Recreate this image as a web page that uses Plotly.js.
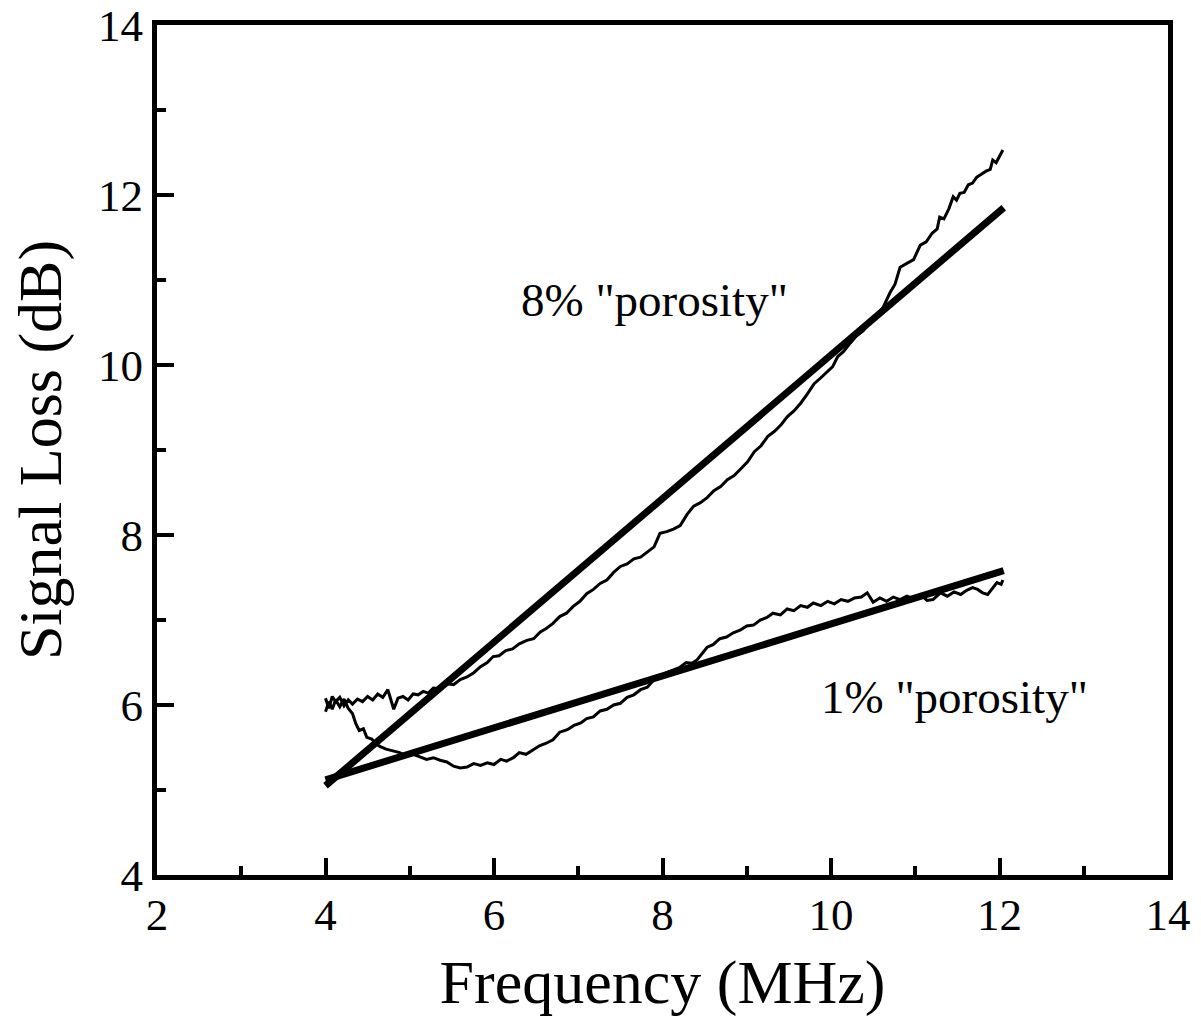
<!DOCTYPE html>
<html><head><meta charset="utf-8">
<script src="https://cdn.plot.ly/plotly-3.0.1.min.js"></script>
<style>body{margin:0;background:#fff}#chart{width:1201px;height:1032px}</style>
</head><body><div id="chart"></div>
<script>
// 8% "porosity" measured curve
const x8 = [4.00,4.04,4.08,4.12,4.17,4.22,4.27,4.32,4.38,4.44,4.50,4.56,4.62,4.68,4.74,4.78,4.81,4.86,4.92,4.98,5.04,5.10,5.16,5.22,5.28,5.36,5.44,5.52,5.60,5.68,5.76,5.84,5.92,5.99,6.06,6.14,6.22,6.30,6.39,6.47,6.55,6.62,6.70,6.78,6.86,6.94,7.02,7.10,7.18,7.26,7.34,7.42,7.50,7.58,7.66,7.74,7.82,7.90,7.97,8.05,8.13,8.21,8.29,8.37,8.45,8.53,8.61,8.69,8.77,8.85,8.93,9.01,9.09,9.17,9.25,9.33,9.41,9.48,9.56,9.64,9.72,9.80,9.88,9.95,10.02,10.08,10.15,10.23,10.30,10.38,10.46,10.54,10.62,10.70,10.76,10.82,10.90,10.98,11.06,11.13,11.20,11.26,11.29,11.34,11.40,11.45,11.49,11.53,11.58,11.63,11.68,11.73,11.78,11.84,11.89,11.92,11.96,12.00,12.04];
const y8 = [6.08,5.96,6.10,6.04,6.09,5.99,6.06,6.01,6.07,6.04,6.10,6.06,6.13,6.09,6.18,6.05,5.95,6.08,6.10,6.06,6.13,6.12,6.16,6.14,6.20,6.19,6.25,6.24,6.30,6.33,6.38,6.45,6.50,6.57,6.58,6.64,6.66,6.72,6.76,6.78,6.86,6.90,6.96,7.04,7.08,7.16,7.22,7.31,7.36,7.43,7.47,7.56,7.63,7.66,7.72,7.74,7.80,7.86,8.02,8.04,8.07,8.11,8.24,8.34,8.38,8.44,8.52,8.57,8.65,8.70,8.78,8.86,8.98,9.05,9.16,9.22,9.30,9.39,9.46,9.55,9.66,9.78,9.85,9.92,9.98,10.10,10.16,10.26,10.34,10.40,10.50,10.58,10.68,10.85,10.95,11.15,11.20,11.24,11.41,11.45,11.55,11.60,11.74,11.72,11.84,11.98,11.94,12.02,12.03,12.12,12.14,12.21,12.24,12.28,12.30,12.41,12.38,12.46,12.53];

// 1% "porosity" measured curve
const x1 = [4.00,4.04,4.08,4.12,4.17,4.22,4.27,4.32,4.36,4.40,4.45,4.49,4.55,4.60,4.65,4.72,4.80,4.88,4.96,5.04,5.12,5.20,5.28,5.36,5.44,5.52,5.60,5.68,5.76,5.84,5.92,6.00,6.08,6.15,6.23,6.30,6.38,6.46,6.54,6.62,6.70,6.78,6.87,6.95,7.03,7.10,7.18,7.26,7.34,7.42,7.50,7.58,7.66,7.74,7.82,7.90,7.97,8.05,8.12,8.20,8.28,8.35,8.41,8.47,8.53,8.60,8.68,8.76,8.84,8.92,9.00,9.08,9.16,9.24,9.31,9.40,9.48,9.56,9.64,9.72,9.79,9.88,9.96,10.04,10.12,10.20,10.28,10.36,10.43,10.50,10.58,10.66,10.74,10.82,10.90,10.98,11.06,11.14,11.21,11.30,11.38,11.46,11.54,11.61,11.68,11.74,11.80,11.86,11.92,11.97,12.02,12.04];
const y1 = [5.92,6.04,5.95,6.06,5.98,6.07,5.96,5.90,5.78,5.70,5.72,5.62,5.60,5.54,5.51,5.48,5.46,5.44,5.40,5.42,5.39,5.36,5.38,5.35,5.33,5.28,5.26,5.27,5.31,5.29,5.32,5.30,5.36,5.34,5.38,5.44,5.42,5.47,5.52,5.55,5.59,5.68,5.71,5.76,5.79,5.84,5.86,5.93,5.95,6.00,6.02,6.09,6.12,6.18,6.21,6.30,6.33,6.38,6.41,6.44,6.50,6.49,6.53,6.60,6.68,6.71,6.78,6.80,6.85,6.88,6.93,6.94,7.00,7.03,7.08,7.06,7.13,7.11,7.17,7.15,7.20,7.17,7.22,7.19,7.24,7.22,7.26,7.27,7.32,7.21,7.26,7.22,7.27,7.24,7.28,7.25,7.30,7.23,7.24,7.32,7.28,7.33,7.30,7.35,7.38,7.36,7.32,7.30,7.38,7.44,7.42,7.47];

// straight-line fits
const xFit8 = [4.0, 12.05];
const yFit8 = [5.05, 11.85];
const xFit1 = [4.0, 12.05];
const yFit1 = [5.12, 7.58];

// annotations
const labelTexts = ['8% "porosity"', '1% "porosity"'];
const labelX = [7.91, 11.47];
const labelY = [10.76, 6.09];

const FONT = '"Liberation Serif", "Times New Roman", serif';

const traces = [
  {x: x8, y: y8, mode: 'lines', line: {color: '#000', width: 3}, hoverinfo: 'skip'},
  {x: x1, y: y1, mode: 'lines', line: {color: '#000', width: 3}, hoverinfo: 'skip'},
  {x: xFit8, y: yFit8, mode: 'lines', line: {color: '#000', width: 7}, hoverinfo: 'skip'},
  {x: xFit1, y: yFit1, mode: 'lines', line: {color: '#000', width: 7}, hoverinfo: 'skip'}
];

const annotations = labelTexts.map((t, i) => ({
  x: labelX[i], y: labelY[i], xref: 'x', yref: 'y', text: t, showarrow: false,
  font: {family: FONT, size: 47, color: '#000'}
}));

const axisCommon = {
  showline: true, linecolor: '#000', linewidth: 5, mirror: true,
  showgrid: false, zeroline: false, ticks: 'inside', ticklen: 17, tickwidth: 4, tickcolor: '#000',
  tickfont: {family: FONT, size: 45, color: '#000'},
  dtick: 2, tick0: 0,
  minor: {ticks: 'inside', ticklen: 9, tickwidth: 4, tickcolor: '#000', dtick: 1, tick0: 0, showgrid: false}
};

const layout = {
  width: 1201, height: 1032,
  margin: {l: 157, r: 33, t: 25, b: 157},
  paper_bgcolor: '#fff', plot_bgcolor: '#fff',
  showlegend: false,
  xaxis: Object.assign({}, axisCommon, {
    range: [2, 14],
    ticklabelstandoff: -4,
    title: {text: 'Frequency (MHz)', font: {family: FONT, size: 62, color: '#000'}, standoff: 22}
  }),
  yaxis: Object.assign({}, axisCommon, {
    range: [4, 14],
    title: {text: 'Signal Loss (dB)', font: {family: FONT, size: 62, color: '#000'}, standoff: 18}
  }),
  annotations: annotations
};

Plotly.newPlot('chart', traces, layout, {staticPlot: true});
</script>
</body></html>
